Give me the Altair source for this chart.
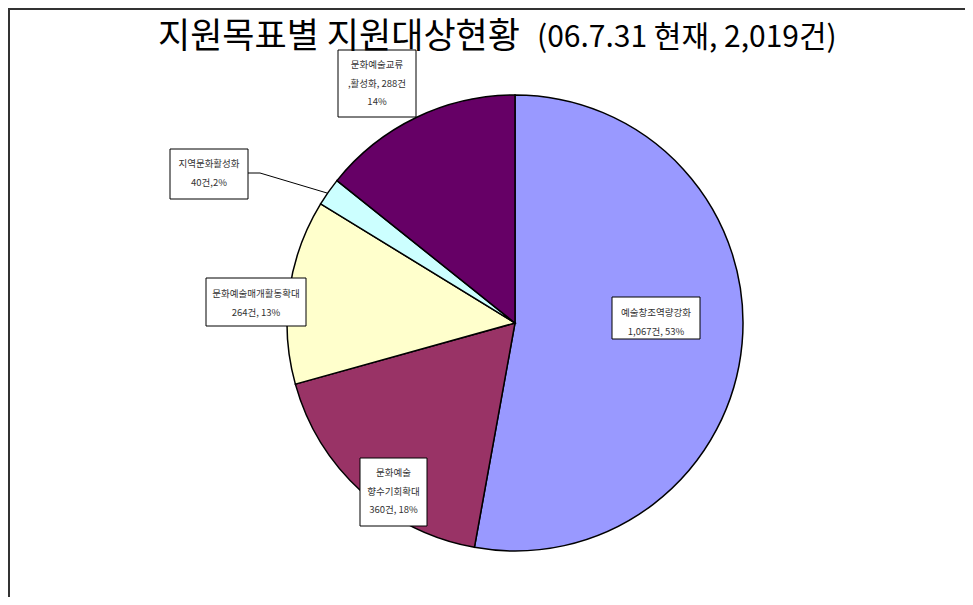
import altair as alt
import pandas as pd

# ---- data ----
categories = ["예술창조역량강화", "문화예술향수기회확대", "문화예술매개활동확대", "지역문화활성화", "문화예술교류활성화"]
counts = [1067, 360, 264, 40, 288]
colors = ["#9999FF", "#993366", "#FFFFCC", "#CCFFFF", "#660066"]
label_texts = [
    "예술창조역량강화\n1,067건, 53%",
    "문화예술\n향수기회확대\n360건, 18%",
    "문화예술매개활동확대\n264건, 13%",
    "지역문화활성화\n40건,2%",
    "문화예술교류\n,활성화, 288건\n14%",
]
title_main = "지원목표별 지원대상현황"
title_sub = "(06.7.31 현재, 2,019건)"

# ---- layout (pixel positions of annotation boxes) ----
W, H = 957, 589
CX, CY, R = 507, 315, 228
box_x0 = [604, 352, 198, 162, 330]
box_x1 = [692, 419, 298, 240, 408]
box_y0 = [289, 450, 270, 141, 42]
box_y1 = [331, 518, 318, 191, 109]
text_y = [305, 465, 286, 156, 57]  # first line
leader_x = [240, 252, 319]
leader_y = [165, 165, 185]

pie_df = pd.DataFrame({"category": categories, "count": counts, "idx": list(range(len(categories)))})
box_df = pd.DataFrame({
    "x0": box_x0, "x1": box_x1, "y0": box_y0, "y1": box_y1,
    "cx": [(a + b) / 2 for a, b in zip(box_x0, box_x1)],
    "ty": text_y, "label": label_texts,
})
leader_df = pd.DataFrame({"x": leader_x, "y": leader_y, "o": [0, 1, 2]})

xs = alt.Scale(domain=[0, W], nice=False, zero=False)
ys = alt.Scale(domain=[0, H], nice=False, zero=False, reverse=True)

pie = alt.Chart(pie_df).mark_arc(stroke="black", strokeWidth=1.5, radius=R).encode(
    theta=alt.Theta("count:Q", stack=True),
    color=alt.Color("category:N", scale=alt.Scale(domain=categories, range=colors), legend=None),
    order=alt.Order("idx:Q"),
    x=alt.value(CX),
    y=alt.value(CY),
)

leader = alt.Chart(leader_df).mark_line(color="black", strokeWidth=1).encode(
    x=alt.X("x:Q", scale=xs, axis=None),
    y=alt.Y("y:Q", scale=ys, axis=None),
    order="o:Q",
)

boxes = alt.Chart(box_df).mark_rect(fill="white", stroke="black", strokeWidth=1).encode(
    x=alt.X("x0:Q", scale=xs, axis=None),
    x2="x1:Q",
    y=alt.Y("y0:Q", scale=ys, axis=None),
    y2="y1:Q",
)

labels = alt.Chart(box_df).mark_text(
    font="Noto Sans CJK KR", fontSize=9.5, color="#333333", lineBreak="\n",
    lineHeight=18.5, align="center", baseline="middle",
).encode(
    x=alt.X("cx:Q", scale=xs, axis=None),
    y=alt.Y("ty:Q", scale=ys, axis=None),
    text="label:N",
)

t1 = alt.Chart(pd.DataFrame({"t": [title_main]})).mark_text(
    font="Noto Sans CJK KR", fontSize=35, color="black", align="right", baseline="middle",
).encode(x=alt.value(512), y=alt.value(29), text="t:N")

t2 = alt.Chart(pd.DataFrame({"t": [title_sub]})).mark_text(
    font="Noto Sans CJK KR", fontSize=30, color="black", align="left", baseline="middle",
).encode(x=alt.value(529), y=alt.value(30), text="t:N")

frame_top = alt.Chart(pd.DataFrame({"a": [0]})).mark_rule(color="#333333", strokeWidth=2).encode(
    x=alt.value(0), x2=alt.value(W), y=alt.value(1)
)
frame_left = alt.Chart(pd.DataFrame({"a": [0]})).mark_rule(color="#333333", strokeWidth=2).encode(
    x=alt.value(1), y=alt.value(0), y2=alt.value(H)
)

chart = alt.layer(pie, leader, boxes, labels, t1, t2, frame_top, frame_left).properties(
    width=W, height=H, autosize=alt.AutoSizeParams(type="none"), padding=0,
).configure_view(stroke=None)

chart.save("out.html", embed_options={"renderer": "svg", "actions": False})
